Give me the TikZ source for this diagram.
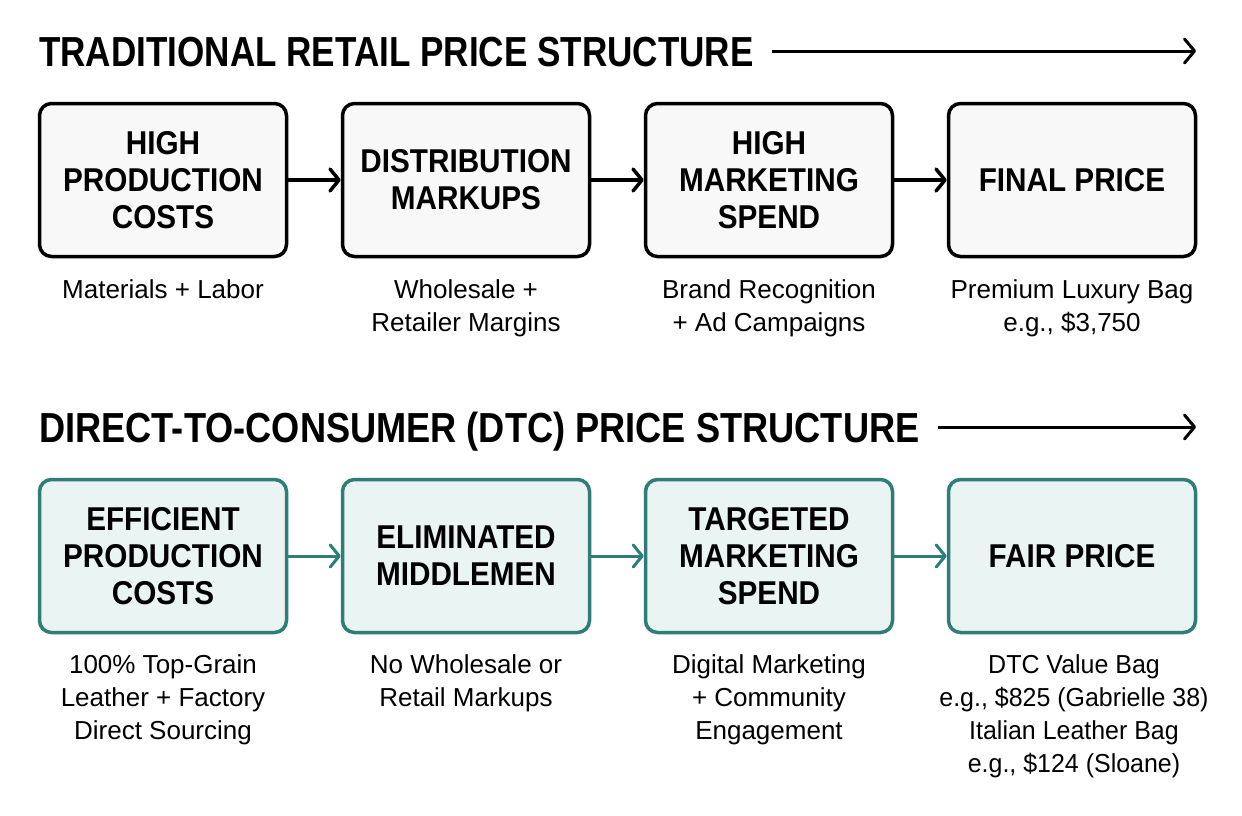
\documentclass[tikz,border=0pt]{standalone}
\usepackage{fontspec}
\setmainfont{Liberation Sans}
\newfontfamily\titlecondA[FakeStretch=0.835]{Liberation Sans Bold}
\newfontfamily\titlecondB[FakeStretch=0.862]{Liberation Sans Bold}
\newfontfamily\boldcond[FakeStretch=0.90]{Liberation Sans Bold}
\newfontfamily\regcond[FakeStretch=1.0]{Liberation Sans}
\newfontfamily\regcondN[FakeStretch=0.96]{Liberation Sans}
\usetikzlibrary{arrows.meta}
\definecolor{teal1}{HTML}{2E7D77}
\definecolor{tealfill}{HTML}{EAF4F3}
\definecolor{greyfill}{HTML}{F8F8F8}
\tikzset{
  titletext/.style={anchor=base west, inner sep=0pt, font=\titlecondA\fontsize{42}{48}\selectfont},
  titletextB/.style={titletext, font=\titlecondB\fontsize{42}{48}\selectfont},
  boxbase/.style={rounded corners=12pt, line width=3.5pt, minimum width=247pt, minimum height=153pt, align=center, inner sep=0pt, font=\boldcond\fontsize{33}{37}\selectfont},
  tradbox/.style={boxbase, draw=black, fill=greyfill},
  dtcbox/.style={boxbase, draw=teal1, fill=tealfill},
  subtext/.style={anchor=north, align=center, inner sep=0pt, font=\regcond\fontsize{26}{33}\selectfont},
  subtextN/.style={subtext, font=\regcondN\fontsize{26}{33}\selectfont},
  bigarrow/.style={line width=3pt, -{Straight Barb[length=10pt,width=24pt,line width=3pt,round]}},
  tradarrow/.style={line width=3.5pt, draw=black, -{Straight Barb[length=9pt,width=22pt,line width=3.5pt,round]}},
  dtcarrow/.style={line width=3pt, draw=teal1, -{Straight Barb[length=9pt,width=22pt,line width=3pt,round]}}
}
\begin{document}
\begin{tikzpicture}[x=1pt,y=-1pt]
\useasboundingbox[fill=white] (0,0) rectangle (1242,815);
% titles
\node[titletext] (t1) at (39,66) {TRADITIONAL RETAIL PRICE STRUCTURE};
\coordinate (t1s) at (772,51);
\coordinate (t1e) at (1196,51);
\draw[bigarrow] (t1s) -- (t1e);
\node[titletextB] (t2) at (39,442) {DIRECT-TO-CONSUMER (DTC) PRICE STRUCTURE};
\coordinate (t2s) at (938,427);
\coordinate (t2e) at (1196,427);
\draw[bigarrow] (t2s) -- (t2e);
% top row
\node[tradbox] (a1) at (163,180) {HIGH\\PRODUCTION\\COSTS};
\node[tradbox] (a2) at (466,180) {DISTRIBUTION\\MARKUPS};
\node[tradbox] (a3) at (769,180) {HIGH\\MARKETING\\SPEND};
\node[tradbox] (a4) at (1072,180) {FINAL PRICE};
\draw[tradarrow] (a1.east) -- (a2.west);
\draw[tradarrow] (a2.east) -- (a3.west);
\draw[tradarrow] (a3.east) -- (a4.west);
\node[subtext] (s1) at (163,279) {Materials + Labor};
\node[subtext] (s2) at (466,279) {Wholesale +\\Retailer Margins};
\node[subtext] (s3) at (769,279) {Brand Recognition\\+ Ad Campaigns};
\node[subtext] (s4) at (1072,279) {Premium Luxury Bag\\e.g., \$3,750};
% bottom row
\node[dtcbox] (b1) at (163,556) {EFFICIENT\\PRODUCTION\\COSTS};
\node[dtcbox] (b2) at (466,556) {ELIMINATED\\MIDDLEMEN};
\node[dtcbox] (b3) at (769,556) {TARGETED\\MARKETING\\SPEND};
\node[dtcbox] (b4) at (1072,556) {FAIR PRICE};
\draw[dtcarrow] (b1.east) -- (b2.west);
\draw[dtcarrow] (b2.east) -- (b3.west);
\draw[dtcarrow] (b3.east) -- (b4.west);
\node[subtext] (u1) at (163,654) {100\% Top-Grain\\Leather + Factory\\Direct Sourcing};
\node[subtext] (u2) at (466,654) {No Wholesale or\\Retail Markups};
\node[subtext] (u3) at (769,654) {Digital Marketing\\+ Community\\Engagement};
\node[subtextN] (u4) at (1074,654) {DTC Value Bag\\e.g., \$825 (Gabrielle 38)\\Italian Leather Bag\\e.g., \$124 (Sloane)};
\end{tikzpicture}
\end{document}
